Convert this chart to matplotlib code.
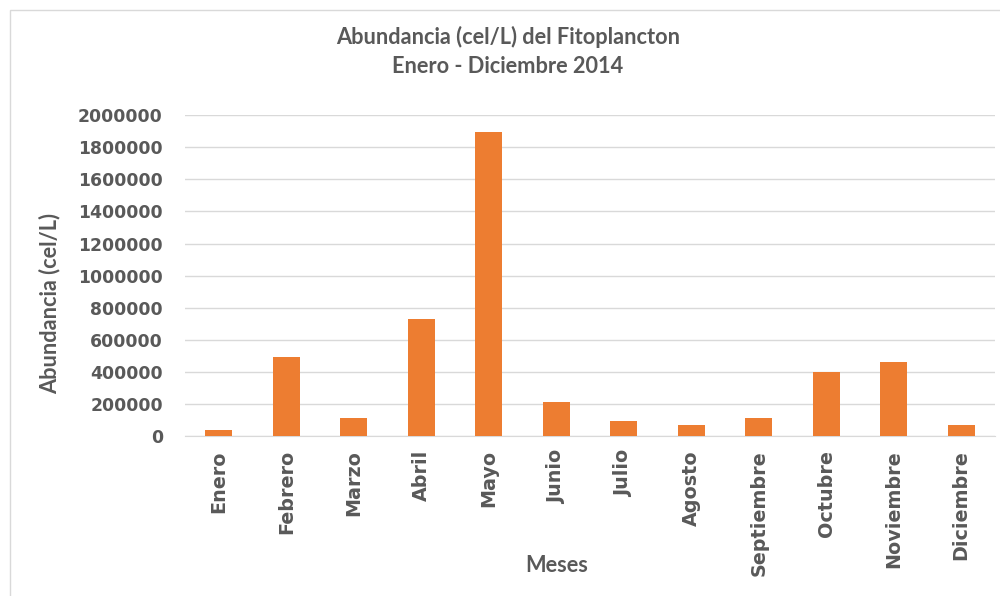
import matplotlib.pyplot as plt
import numpy as np

meses = ["Enero", "Febrero", "Marzo", "Abril", "Mayo", "Junio", "Julio",
         "Agosto", "Septiembre", "Octubre", "Noviembre", "Diciembre"]
abundancia = [39000, 495000, 112000, 730000, 1895000, 212000, 96000,
              70000, 112000, 402000, 462000, 70000]
yticks = [0, 200000, 400000, 600000, 800000, 1000000, 1200000,
          1400000, 1600000, 1800000, 2000000]

gray = "#595959"
orange = "#ED7D31"

fig = plt.figure(figsize=(10, 5.96), dpi=100)
ax = fig.add_axes([0.185, 0.268, 0.81, 0.539])

x = np.arange(len(meses))
ax.bar(x, abundancia, width=0.4, color=orange, zorder=3)

ax.set_xlim(-0.5, len(meses) - 0.5)
ax.set_ylim(0, 2000000)
ax.set_yticks(yticks)
ax.set_yticklabels([str(v) for v in yticks], fontsize=12.4, fontweight="bold",
                   color=gray, family="DejaVu Sans")
ax.set_xticks(x)
ax.set_xticklabels(meses, rotation=90, fontsize=13.8, fontweight="bold",
                   color=gray, family="DejaVu Sans")
ax.tick_params(axis="x", length=0, pad=10)
ax.tick_params(axis="y", length=0, pad=16)

ax.grid(axis="y", color="#D9D9D9", linewidth=1, zorder=0)
for s in ["top", "right", "left"]:
    ax.spines[s].set_visible(False)
ax.spines["bottom"].set_color("#D9D9D9")

fig.text(0.050, 0.49, "Abundancia (cel/L)", rotation=90, ha="center",
         va="center", fontsize=15.7, fontweight="bold", color=gray, family="Lato")
fig.text(0.557, 0.052, "Meses", ha="center", va="center", fontsize=15.7,
         fontweight="bold", color=gray, family="Lato")

fig.text(0.508, 0.938, "Abundancia (cel/L) del Fitoplancton", ha="center",
         va="center", fontsize=15.7, fontweight="bold", color=gray, family="Lato")
fig.text(0.508, 0.889, "Enero - Diciembre 2014", ha="center", va="center",
         fontsize=15.7, fontweight="bold", color=gray, family="Lato")

# chart border
fig.add_artist(plt.Rectangle((0.01, -0.01), 1.0, 0.993, transform=fig.transFigure,
                             fill=False, edgecolor="#D9D9D9", linewidth=1))

fig.savefig("out.png", dpi=100)
